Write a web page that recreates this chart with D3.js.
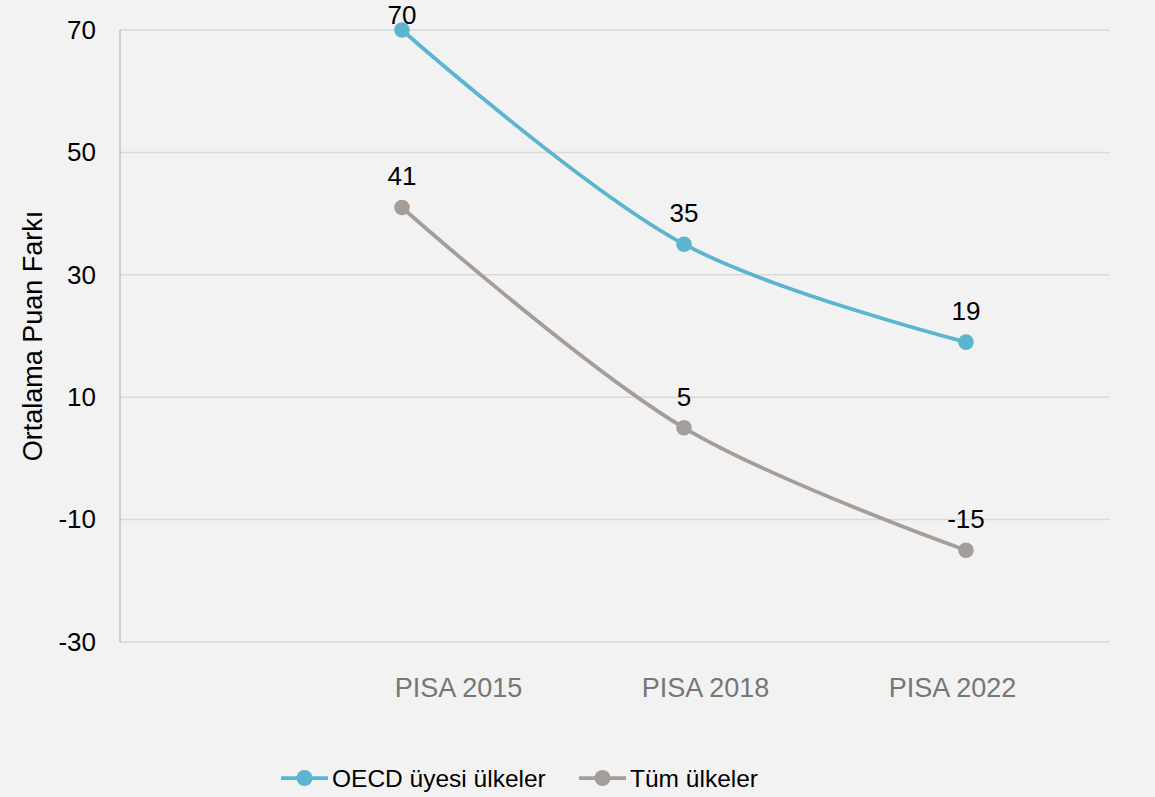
<!DOCTYPE html>
<html>
<head>
<meta charset="utf-8">
<script src="https://cdn.jsdelivr.net/npm/d3@7"></script>
<style>
body{margin:0;background:#f2f2f2;}
text{font-family:"Liberation Sans",Arial,sans-serif;}
</style>
</head>
<body>
<script>
var width=1155,height=797;
var categories=["PISA 2015","PISA 2018","PISA 2022"];
var oecdValues=[70,35,19];
var allValues=[41,5,-15];
var seriesNames=["OECD üyesi ülkeler","Tüm ülkeler"];
var yTicks=[70,50,30,10,-10,-30];
var colors=["#5bb5d0","#a69d96"];

var svg=d3.select("body").append("svg")
    .attr("width",width)
    .attr("height",height);

svg.append("rect").attr("width",width).attr("height",height).attr("fill","#f2f2f2");

var plotLeft=120,plotRight=1110,plotTop=30,plotBottom=642;
var yScale=d3.scaleLinear().domain([-30,70]).range([plotBottom,plotTop]);
var xScale=d3.scaleBand().domain(categories).range([261,1107]).padding(0);
function xc(c){return xScale(c)+xScale.bandwidth()/2;}
// category labels sit a bit off the points in the original
var labelScale=d3.scalePoint().domain(categories).range([458,952]);

// gridlines
svg.append("g").selectAll("line")
   .data(yTicks)
   .enter()
   .append("line")
   .attr("x1",plotLeft)
   .attr("x2",plotRight)
   .attr("y1",function(d){return yScale(d);})
   .attr("y2",function(d){return yScale(d);})
   .attr("stroke","#d9d9d9")
   .attr("stroke-width",1.5);

// y axis line
svg.append("line")
   .attr("x1",plotLeft).attr("x2",plotLeft)
   .attr("y1",plotTop).attr("y2",plotBottom)
   .attr("stroke","#bfbfbf").attr("stroke-width",1.5);

var yAxis=d3.axisLeft(yScale).tickValues(yTicks).tickSize(0).tickPadding(24)
    .tickFormat(function(d){return String(d);});
var gy=svg.append("g").attr("transform","translate("+plotLeft+",0)").call(yAxis);
gy.select(".domain").remove();
gy.selectAll("text").attr("font-size","26px").attr("fill","#000")
  .attr("font-family","'Liberation Sans',Arial,sans-serif");

var xAxis=d3.axisBottom(labelScale).tickSize(0).tickPadding(0);
var gx=svg.append("g").attr("transform","translate(0,"+(plotBottom+36)+")").call(xAxis);
gx.select(".domain").remove();
gx.selectAll("text").attr("font-size","27px").attr("fill","#767676")
  .attr("font-family","'Liberation Sans',Arial,sans-serif");

svg.append("text")
   .attr("transform","translate(42,"+336+") rotate(-90)")
   .attr("text-anchor","middle")
   .attr("font-size","27px")
   .attr("fill","#000")
   .text("Ortalama Puan Farkı");

var series=[oecdValues,allValues];
var line=d3.line()
    .x(function(d,i){return xc(categories[i]);})
    .y(function(d){return yScale(d);})
    .curve(d3.curveCatmullRom.alpha(0.5));

series.forEach(function(vals,s){
    svg.append("path")
       .datum(vals)
       .attr("d",line)
       .attr("fill","none")
       .attr("stroke",colors[s])
       .attr("stroke-width",3.75);
    svg.append("g").selectAll("circle")
       .data(vals)
       .enter()
       .append("circle")
       .attr("cx",function(d,i){return xc(categories[i]);})
       .attr("cy",function(d){return yScale(d);})
       .attr("r",7.8)
       .attr("fill",colors[s]);
    svg.append("g").selectAll("text")
       .data(vals)
       .enter()
       .append("text")
       .attr("x",function(d,i){return xc(categories[i]);})
       .attr("y",function(d){return Math.max(yScale(d)-22,24);})
       .attr("text-anchor","middle")
       .attr("font-size","26px")
       .attr("fill","#000")
       .text(function(d){return d;});
});

// legend
var legendX=[281,579];
seriesNames.forEach(function(name,s){
    var g=svg.append("g").attr("transform","translate("+legendX[s]+",778)");
    g.append("line").attr("x1",0).attr("x2",47).attr("y1",0).attr("y2",0)
     .attr("stroke",colors[s]).attr("stroke-width",3.75);
    g.append("circle").attr("cx",23.5).attr("cy",0).attr("r",8).attr("fill",colors[s]);
    g.append("text").attr("x",51).attr("y",9).attr("font-size","24.5px").attr("fill","#000").text(name);
});
</script>
</body>
</html>
